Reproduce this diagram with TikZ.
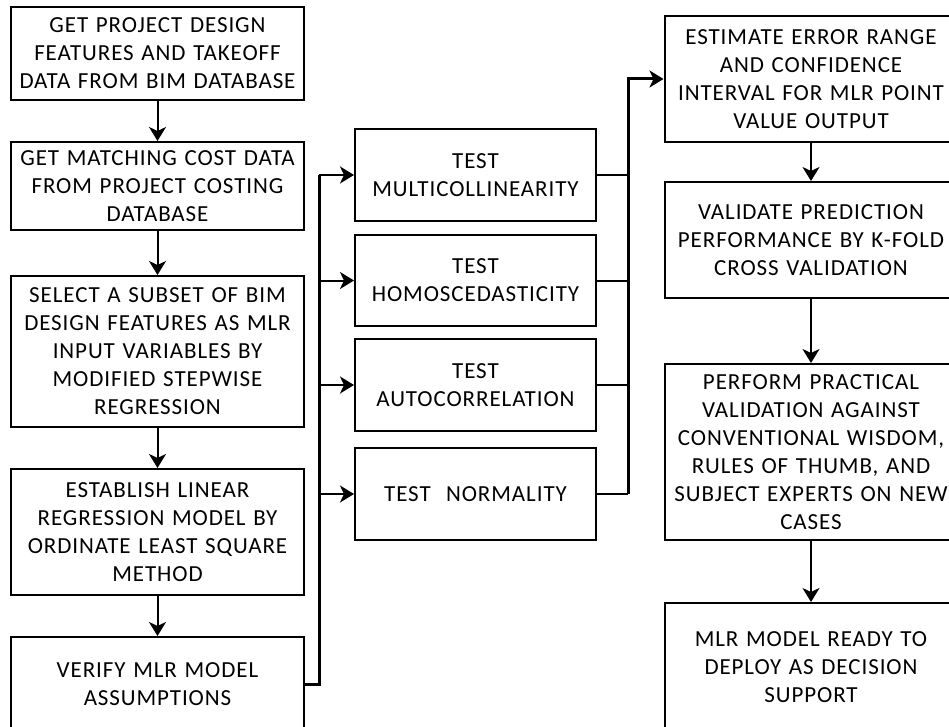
\documentclass[tikz,border=0pt]{standalone}
\usepackage{fontspec}
\setmainfont{Carlito}[LetterSpace=4]
\usetikzlibrary{arrows.meta}

\begin{document}
\begin{tikzpicture}[x=1pt,y=-1pt,
  box/.style={draw, line width=2pt, align=center, inner sep=0pt,
    font=\fontsize{23}{28}\selectfont},
  bigbox/.style={box, minimum width=293pt, text width=291pt},
  testbox/.style={box, minimum width=241pt, text width=239pt},
  link/.style={line width=2pt},
  trunk/.style={line width=3pt},
  arr/.style={-{Stealth[length=14pt,width=17pt,inset=4pt]}}
]
\useasboundingbox (0,0) rectangle (949,727);

% left column: data preparation and model building
\node[bigbox, minimum height=93pt]  (b1) at (157.5,53.5)
  {GET PROJECT DESIGN\\FEATURES AND TAKEOFF\\DATA FROM BIM DATABASE};
\node[bigbox, minimum height=88pt]  (b2) at (157.5,186)
  {GET MATCHING COST DATA\\FROM PROJECT COSTING\\DATABASE};
\node[bigbox, minimum height=151pt] (b3) at (157.5,351.5)
  {SELECT A SUBSET OF BIM\\DESIGN FEATURES AS MLR\\INPUT VARIABLES BY\\MODIFIED STEPWISE\\REGRESSION};
\node[bigbox, minimum height=126pt] (b4) at (157.5,532)
  {ESTABLISH LINEAR\\REGRESSION MODEL BY\\ORDINATE LEAST SQUARE\\METHOD};
\node[bigbox, minimum height=94pt]  (b5) at (157.5,684)
  {VERIFY MLR MODEL\\ASSUMPTIONS};

% middle column: assumption tests
\node[testbox, minimum height=92pt] (m1) at (475.5,175) {TEST\\MULTICOLLINEARITY};
\node[testbox, minimum height=91pt] (m2) at (475.5,280.5) {TEST\\HOMOSCEDASTICITY};
\node[testbox, minimum height=92pt] (m3) at (475.5,385) {TEST\\AUTOCORRELATION};
\node[testbox, minimum height=92pt] (m4) at (475.5,494) {TEST~~NORMALITY};

% right column: error estimation and validation
\node[bigbox, minimum height=126pt] (r1) at (811,79)
  {ESTIMATE ERROR RANGE\\AND CONFIDENCE\\INTERVAL FOR MLR POINT\\VALUE OUTPUT};
\node[bigbox, minimum height=116pt] (r2) at (811,240)
  {VALIDATE PREDICTION\\PERFORMANCE BY K-FOLD\\CROSS VALIDATION};
\node[bigbox, minimum height=176pt] (r3) at (811,452)
  {PERFORM PRACTICAL\\VALIDATION AGAINST\\CONVENTIONAL WISDOM,\\RULES OF THUMB, AND\\SUBJECT EXPERTS ON NEW\\CASES};
\node[bigbox, minimum height=128pt] (r4) at (811,667)
  {MLR MODEL READY TO\\DEPLOY AS DECISION\\SUPPORT};

% trunk positions
\coordinate (lt) at (319,0);
\coordinate (rt) at (628,0);

% left column flow
\draw[link,arr] (b1.south) -- (b2.north);
\draw[link,arr] (b2.south) -- (b3.north);
\draw[link,arr] (b3.south) -- (b4.north);
\draw[link,arr] (b4.south) -- (b5.north);

% fan-out to the tests
\draw[trunk] (b5.east) -- (b5.east -| lt) -- (lt |- m1.west);
\draw[link,arr] (lt |- m1.west) -- (m1.west);
\draw[link,arr] (lt |- m2.west) -- (m2.west);
\draw[link,arr] (lt |- m3.west) -- (m3.west);
\draw[link,arr] (lt |- m4.west) -- (m4.west);

% fan-in from the tests
\draw[link] (m1.east) -- (m1.east -| rt);
\draw[link] (m2.east) -- (m2.east -| rt);
\draw[link] (m3.east) -- (m3.east -| rt);
\draw[link] (m4.east) -- (m4.east -| rt);
\draw[trunk,arr] (rt |- m4.east) -- (rt |- r1.west) -- (r1.west);

% right column flow
\draw[link,arr] (r1.south) -- (r2.north);
\draw[link,arr] (r2.south) -- (r3.north);
\draw[link,arr] (r3.south) -- (r4.north);
\end{tikzpicture}
\end{document}
